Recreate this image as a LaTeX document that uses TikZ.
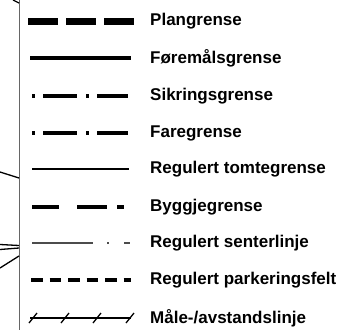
\documentclass[tikz,border=0pt]{standalone}
\usepackage{fontspec}
\setmainfont{Liberation Sans}
\usetikzlibrary{calc}

\begin{document}
\begin{tikzpicture}[x=1pt,y=-1pt,
    lbl/.style={anchor=west,inner sep=0pt,font=\fontsize{17}{19}\selectfont\bfseries},
    thick line/.style={line width=3.2pt},
    thin line/.style={line width=1.3pt}]
    \useasboundingbox (0,0) rectangle (341,330);

    % frame and cut lines on the left
    \draw[gray!80!black,line width=1.6pt] (19.5,0) -- (19.5,330);
    \draw[thin line] (13,0) -- (19,3)
    (0,172) -- (19,178)
    (0,244.5) -- (19,245.5)
    (0,249.5) -- (19,248)
    (0,268) -- (19,256);

    % legend samples
    \draw[line width=6.5pt,dash pattern=on 30pt off 8pt] (28,21.5) -- (134,21.5);
    \draw[thick line] (30,58) -- (131,58);
    \draw[thick line,dash pattern=on 2.5pt off 8.5pt on 34pt off 9pt] (32,96) -- (128,96);
    \draw[thick line,dash pattern=on 2.5pt off 8.5pt on 34pt off 9pt] (32,133) -- (128,133);
    \draw[thin line] (32,169) -- (129,169);
    \draw[thick line,dash pattern=on 27pt off 18pt on 30pt off 10pt] (32,207) -- (124,207);
    \draw[gray!60!black,line width=1.6pt,dash pattern=on 61pt off 14pt on 2pt off 15pt on 6pt off 10pt]
    (32,243) -- (130,243);
    \draw[thick line,dash pattern=on 11.5pt off 7pt] (31,280) -- (131,280);
    \draw[thin line] (30,318) -- (131,318);
    \draw[thin line] (29,323) -- (37,313)
    (61,323) -- (69,313)
    (93,323) -- (101,313)
    (126,323) -- (134,313);

    % labels
    \node[lbl] (plan) at (150,21) {Plangrense};
    \node[lbl] (foremal) at (150,58) {Føremålsgrense};
    \node[lbl] (sikring) at (150,96) {Sikringsgrense};
    \node[lbl] (fare) at (150,133) {Faregrense};
    \node[lbl] (tomt) at (150,169) {Regulert tomtegrense};
    \node[lbl] (bygg) at (150,207) {Byggjegrense};
    \node[lbl] (senter) at (150,243) {Regulert senterlinje};
    \node[lbl] (parkering) at (150,280) {Regulert parkeringsfelt};
    \node[lbl] (maale) at (150,318) {Måle-/avstandslinje};
  \end{tikzpicture}
\end{document}
